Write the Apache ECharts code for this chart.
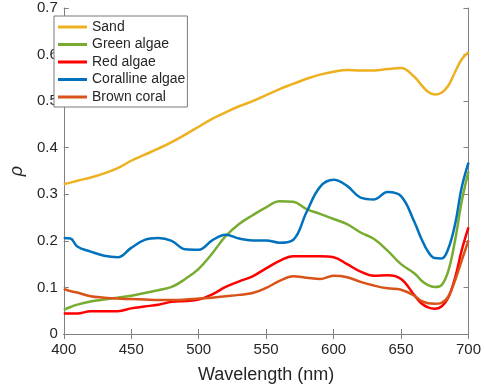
<!DOCTYPE html>
<html>
<head>
<meta charset="utf-8">
<script src="https://cdn.jsdelivr.net/npm/echarts@6/dist/echarts.min.js"></script>
<style>
	html, body { margin: 0; padding: 0; background: #fff; }
	#chart { width: 484px; height: 389px; }
</style>
</head>
<body>
<div id="chart"></div>
<script>
var wavelength = [400, 405, 410, 420, 430, 440, 450, 460, 470, 480, 490, 500, 510, 520, 530, 540, 550, 560, 570, 580,
	590, 600, 610, 620, 630, 640, 650, 660, 665, 670, 675, 680, 685, 690, 695, 700];
var sand = [0.322, 0.325, 0.329, 0.336, 0.345, 0.356, 0.372, 0.385, 0.398, 0.412, 0.428, 0.445, 0.462, 0.476, 0.489, 0.500,
	0.513, 0.526, 0.537, 0.548, 0.557, 0.563, 0.567, 0.566, 0.566, 0.569, 0.571, 0.552, 0.535, 0.520, 0.514, 0.518,
	0.533, 0.562, 0.590, 0.605];
var greenAlgae = [0.052, 0.058, 0.063, 0.070, 0.074, 0.078, 0.082, 0.088, 0.094, 0.101, 0.118, 0.140, 0.173, 0.210, 0.236, 0.255,
	0.272, 0.285, 0.284, 0.268, 0.258, 0.247, 0.236, 0.218, 0.204, 0.179, 0.150, 0.130, 0.115, 0.105, 0.101, 0.105,
	0.135, 0.200, 0.285, 0.349];
var redAlgae = [0.044, 0.044, 0.044, 0.049, 0.049, 0.049, 0.055, 0.059, 0.063, 0.069, 0.071, 0.074, 0.085, 0.101, 0.113, 0.124,
	0.141, 0.157, 0.167, 0.167, 0.167, 0.165, 0.150, 0.134, 0.125, 0.126, 0.118, 0.083, 0.066, 0.057, 0.054, 0.059,
	0.078, 0.120, 0.180, 0.229];
var corallineAlgae = [0.206, 0.205, 0.188, 0.177, 0.168, 0.165, 0.185, 0.202, 0.206, 0.200, 0.182, 0.181, 0.201, 0.213, 0.205, 0.201,
	0.201, 0.196, 0.202, 0.262, 0.316, 0.331, 0.318, 0.293, 0.289, 0.305, 0.296, 0.240, 0.205, 0.177, 0.163, 0.162,
	0.183, 0.235, 0.315, 0.368];
var brownCoral = [0.097, 0.092, 0.089, 0.081, 0.078, 0.076, 0.075, 0.074, 0.073, 0.073, 0.074, 0.076, 0.078, 0.081, 0.084, 0.088,
	0.099, 0.114, 0.124, 0.121, 0.118, 0.125, 0.122, 0.112, 0.104, 0.098, 0.095, 0.082, 0.071, 0.066, 0.065, 0.067,
	0.080, 0.115, 0.158, 0.201];

var seriesNames = ['Sand', 'Green algae', 'Red algae', 'Coralline algae', 'Brown coral'];
var seriesColors = ['#EDB120', '#77AC30', '#FF0000', '#0072BD', '#D95319'];
var seriesValues = [sand, greenAlgae, redAlgae, corallineAlgae, brownCoral];

function pairs(values) {
	return wavelength.map(function (w, i) {
		return [w, values[i]];
	});
}

var font = 'Liberation Sans, Arial, sans-serif';
var axisColor = '#808080';
var textColor = '#262626';

function xAxisOf(pos, showLabels) {
	return {
		type: 'value',
		position: pos,
		min: 400,
		max: 700,
		interval: 50,
		name: showLabels ? 'Wavelength (nm)' : '',
		nameLocation: 'middle',
		nameGap: 32,
		nameTextStyle: { fontFamily: font, fontSize: 18, color: textColor },
		axisLine: { show: true, lineStyle: { color: axisColor, width: 1 } },
		axisTick: { show: true, inside: true, length: 5, lineStyle: { color: axisColor } },
		axisLabel: { show: showLabels, fontFamily: font, fontSize: 15, color: textColor, margin: 8 },
		splitLine: { show: false }
	};
}

function yAxisOf(pos, showLabels) {
	return {
		type: 'value',
		position: pos,
		min: 0,
		max: 0.7,
		interval: 0.1,
		name: showLabels ? 'ρ' : '',
		nameLocation: 'middle',
		nameGap: 32,
		nameTextStyle: { fontFamily: font, fontSize: 18, fontStyle: 'italic', color: textColor },
		axisLine: { show: true, lineStyle: { color: axisColor, width: 1 } },
		axisTick: { show: true, inside: true, length: 5, lineStyle: { color: axisColor } },
		axisLabel: { show: showLabels, fontFamily: font, fontSize: 15, color: textColor, margin: 6 },
		splitLine: { show: false }
	};
}

var chart = echarts.init(document.getElementById('chart'));
var option = {
	animation: false,
	backgroundColor: '#fff',
	grid: { left: 44, right: 15, top: 8, bottom: 49 },
	legend: {
		orient: 'vertical',
		left: 54,
		top: 16,
		padding: [4, 2, 3, 4],
		itemGap: 3.5,
		itemWidth: 29,
		itemHeight: 3,
		icon: 'rect',
		borderColor: '#7a7a7a',
		borderWidth: 1,
		backgroundColor: '#fff',
		textStyle: { fontFamily: font, fontSize: 14, color: textColor },
		data: seriesNames
	},
	xAxis: [xAxisOf('bottom', true), xAxisOf('top', false)],
	yAxis: [yAxisOf('left', true), yAxisOf('right', false)],
	series: seriesNames.map(function (name, i) {
		return {
			name: name,
			type: 'line',
			smooth: 0.4,
			showSymbol: false,
			color: seriesColors[i],
			lineStyle: { width: 2.5, color: seriesColors[i] },
			data: pairs(seriesValues[i])
		};
	})
};
chart.setOption(option);
</script>
</body>
</html>
